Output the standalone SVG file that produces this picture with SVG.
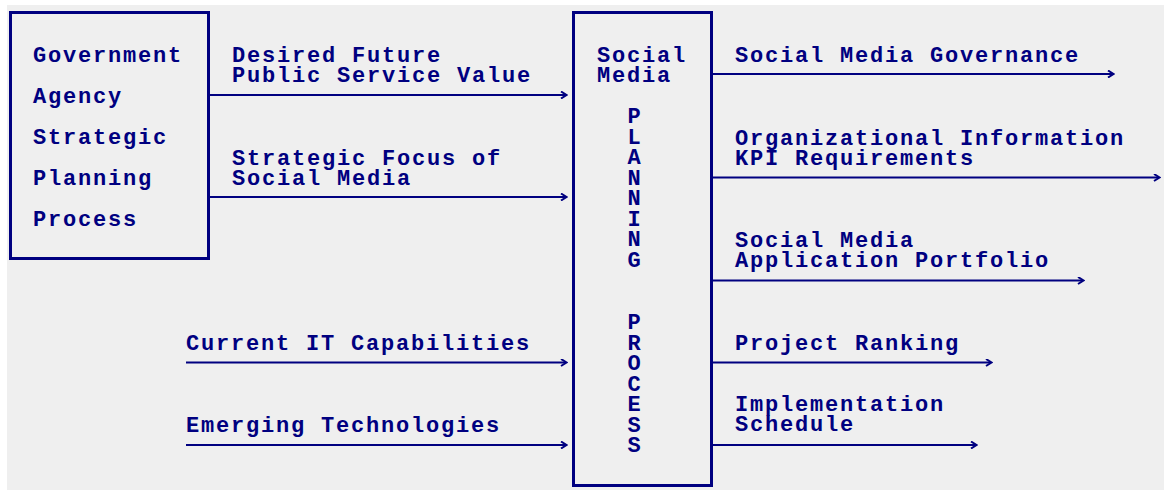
<svg xmlns="http://www.w3.org/2000/svg" width="1164" height="491" viewBox="0 0 1164 491">
<defs>
<style>
.t{font-family:"Liberation Mono","DejaVu Sans Mono",monospace;font-weight:bold;font-size:22px;letter-spacing:1.8px;fill:#000080}
.v{font-family:"Liberation Mono","DejaVu Sans Mono",monospace;font-weight:bold;font-size:22px;fill:#000080;text-anchor:middle}
.box{fill:none;stroke:#000080;stroke-width:3}
.c{stroke:#000080;stroke-width:2;fill:none;marker-end:url(#ah)}
</style>
<marker id="ah" markerWidth="8" markerHeight="8" refX="6" refY="4" orient="auto" markerUnits="userSpaceOnUse">
<path d="M1,0.5 L6.5,4 L1,7.5" fill="none" stroke="#000080" stroke-width="2"/>
</marker>
</defs>
<rect x="0" y="0" width="1164" height="491" fill="#ffffff"/>
<rect x="7" y="5" width="1157" height="485" fill="#efefef"/>

<g id="strategic-planning">
<rect class="box" x="10.5" y="12.5" width="198" height="246"/>
<text class="t" x="33" y="62">Government</text>
<text class="t" x="33" y="103">Agency</text>
<text class="t" x="33" y="144">Strategic</text>
<text class="t" x="33" y="185">Planning</text>
<text class="t" x="33" y="226">Process</text>
</g>

<g id="planning-process">
<rect class="box" x="573.5" y="12.5" width="138" height="473"/>
<text class="t" x="597" y="62">Social</text>
<text class="t" x="597" y="82">Media</text>
<text class="v" x="634" y="123">P</text>
<text class="v" x="634" y="143.6">L</text>
<text class="v" x="634" y="164.2">A</text>
<text class="v" x="634" y="184.8">N</text>
<text class="v" x="634" y="205.4">N</text>
<text class="v" x="634" y="226">I</text>
<text class="v" x="634" y="246.4">N</text>
<text class="v" x="634" y="267">G</text>
<text class="v" x="634" y="329">P</text>
<text class="v" x="634" y="349.5">R</text>
<text class="v" x="634" y="370">O</text>
<text class="v" x="634" y="390.5">C</text>
<text class="v" x="634" y="411">E</text>
<text class="v" x="634" y="431.5">S</text>
<text class="v" x="634" y="452">S</text>
</g>

<g id="connectors">
<line class="c" x1="210" y1="95" x2="566" y2="95"/>
<line class="c" x1="210" y1="197" x2="566" y2="197"/>
<line class="c" x1="186" y1="362.5" x2="566" y2="362.5"/>
<line class="c" x1="186" y1="445" x2="566" y2="445"/>
<line class="c" x1="712" y1="74" x2="1113" y2="74"/>
<line class="c" x1="712" y1="177.5" x2="1159" y2="177.5"/>
<line class="c" x1="712" y1="280.5" x2="1083" y2="280.5"/>
<line class="c" x1="712" y1="362.5" x2="991" y2="362.5"/>
<line class="c" x1="712" y1="445" x2="976" y2="445"/>
</g>

<g id="labels">
<text class="t" x="232" y="62">Desired Future</text>
<text class="t" x="232" y="82">Public Service Value</text>
<text class="t" x="232" y="165">Strategic Focus of</text>
<text class="t" x="232" y="185">Social Media</text>
<text class="t" x="186" y="350">Current IT Capabilities</text>
<text class="t" x="186" y="432">Emerging Technologies</text>
<text class="t" x="735" y="62">Social Media Governance</text>
<text class="t" x="735" y="145">Organizational Information</text>
<text class="t" x="735" y="165">KPI Requirements</text>
<text class="t" x="735" y="247">Social Media</text>
<text class="t" x="735" y="267">Application Portfolio</text>
<text class="t" x="735" y="350">Project Ranking</text>
<text class="t" x="735" y="411">Implementation</text>
<text class="t" x="735" y="431">Schedule</text>
</g>
</svg>
